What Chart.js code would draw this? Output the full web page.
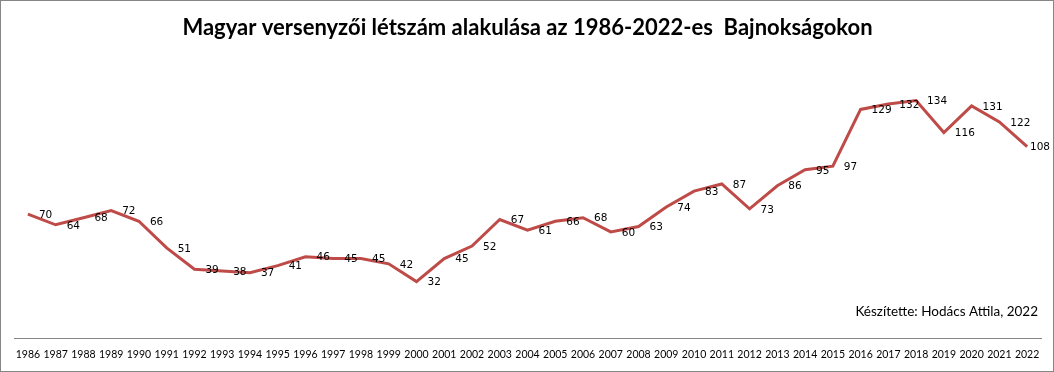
<!DOCTYPE html>
<html>
<head>
<meta charset="utf-8">
<script src="https://cdn.jsdelivr.net/npm/chart.js@4"></script>
<style>
  body { margin: 0; background: #fff; }
  #wrap { width: 1054px; height: 372px; border: 1px solid #868686; box-sizing: border-box; position: relative; }
</style>
</head>
<body>
<div id="wrap"><canvas id="chart"></canvas></div>
<script>
const years = ["1986","1987","1988","1989","1990","1991","1992","1993","1994","1995","1996","1997","1998","1999","2000","2001","2002","2003","2004","2005","2006","2007","2008","2009","2010","2011","2012","2013","2014","2015","2016","2017","2018","2019","2020","2021","2022"];
const competitors = [70,64,68,72,66,51,39,38,37,41,46,45,45,42,32,45,52,67,61,66,68,60,63,74,83,87,73,86,95,97,129,132,134,116,131,122,108];
const chart_title = "Magyar versenyzői létszám alakulása az 1986-2022-es  Bajnokságokon";
const credit_text = "Készítette: Hodács Attila, 2022";

// labels to the right of every point, like the excel original
const pointLabels = {
    id: 'pointLabels',
    afterDatasetsDraw(chart) {
        let ctx = chart.ctx;
        let meta = chart.getDatasetMeta(0);
        ctx.save();
        ctx.font = "10.5px 'DejaVu Sans'";
        ctx.fillStyle = "#000";
        ctx.textAlign = "left";
        ctx.textBaseline = "middle";
        meta.data.forEach(function (pt, i) {
            let txt = String(competitors[i]);
            let x = pt.x + 11;
            let w = ctx.measureText(txt).width;
            // keep the last label inside the frame
            if (x + w > chart.width - 3) x = chart.width - 3 - w;
            ctx.fillText(txt, x, pt.y + 1);
        });
        ctx.restore();
    }
};

const creditNote = {
    id: 'creditNote',
    afterDraw(chart) {
        let ctx = chart.ctx;
        ctx.save();
        ctx.font = "13.5px Lato";
        ctx.fillStyle = "#000";
        ctx.textAlign = "right";
        ctx.textBaseline = "middle";
        ctx.fillText(credit_text, chart.chartArea.right - 3, 311);
        ctx.restore();
    }
};

let ctx = document.getElementById('chart').getContext('2d');
new Chart(ctx, {
    type: 'line',
    data: {
        labels: years,
        datasets: [{
            data: competitors,
            borderColor: "#be4b48",
            borderWidth: 3,
            pointRadius: 0,
            fill: false,
            tension: 0
        }]
    },
    options: {
        responsive: true,
        maintainAspectRatio: false,
        animation: false,
        layout: { padding: { left: 13, right: 12, bottom: 0 } },
        plugins: {
            legend: { display: false },
            tooltip: { enabled: false },
            title: {
                display: true,
                text: chart_title,
                color: "#000",
                font: { family: "Lato", size: 22, weight: "bold" },
                padding: { top: 14, bottom: 13 }
            }
        },
        scales: {
            x: {
                offset: true,
                grid: { display: false, drawTicks: false },
                border: { display: true, color: "#868686", width: 1 },
                ticks: {
                    color: "#000",
                    font: { family: "Lato", size: 10.5 },
                    padding: 10,
                    maxRotation: 0,
                    autoSkip: false
                }
            },
            y: {
                display: false,
                min: 0,
                max: 160
            }
        }
    },
    plugins: [pointLabels, creditNote]
});
</script>
</body>
</html>
